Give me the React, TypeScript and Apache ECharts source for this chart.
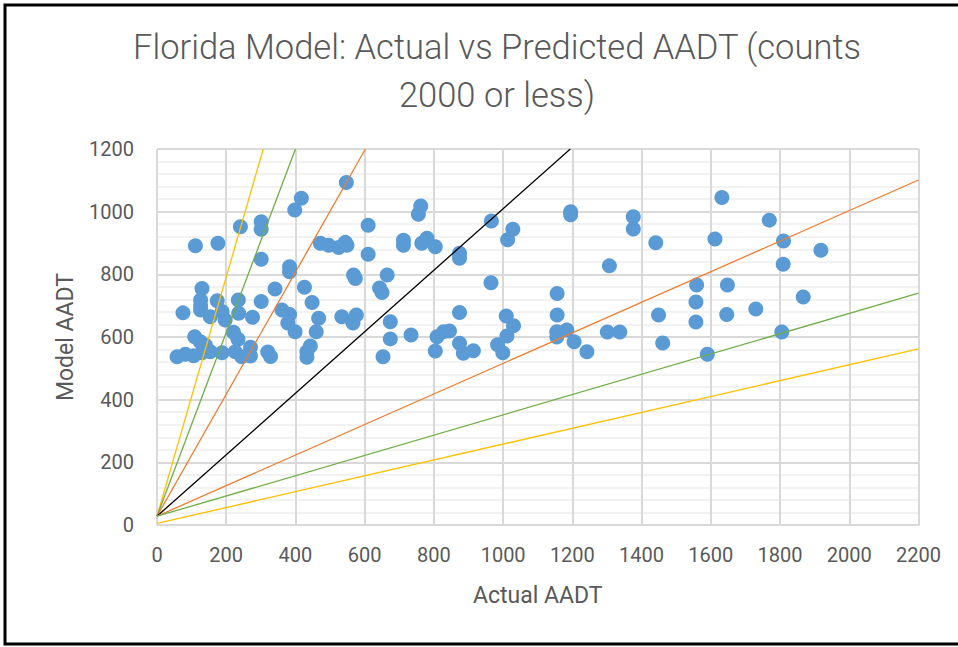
import React, { useEffect, useRef } from "react";
import * as echarts from "echarts";

const titleLines = ["Florida Model: Actual vs Predicted AADT (counts", "2000 or less)"];
const xAxisTitle = "Actual AADT";
const yAxisTitle = "Model AADT";

const actualAADT = [
  547, 417, 398, 241, 301, 301, 111, 176, 610, 472, 496, 525, 544, 549, 610, 301, 383, 383, 568, 573,
  665, 643, 650, 130, 341, 426, 448, 126, 126, 126, 174, 235, 301, 75, 154, 188, 197, 236, 276, 361,
  383, 378, 399, 467, 460, 534, 576, 566, 674, 674, 734, 109, 125, 140, 221, 234, 58, 82, 106, 130,
  154, 188, 226, 245, 270, 270, 320, 328, 443, 433, 433, 653, 762, 755, 712, 712, 780, 765, 804, 874,
  874, 966, 1028, 1013, 965, 1195, 1195, 1376, 1376, 1307, 874, 1156, 1156, 804, 809, 828, 845, 874, 885, 914,
  1009, 1030, 1011, 984, 999, 1155, 1155, 1184, 1205, 1242, 1301, 1337, 1441, 1632, 1612, 1769, 1810, 1918, 1809, 1559,
  1557, 1557, 1648, 1449, 1646, 1730, 1867, 1805, 1461, 1590,
];

const modelAADT = [
  1093, 1043, 1005, 952, 968, 944, 891, 899, 957, 899, 893, 886, 902, 893, 864, 848, 824, 808, 798, 787,
  798, 756, 742, 755, 753, 759, 710, 718, 700, 686, 716, 718, 713, 677, 665, 681, 654, 676, 663, 686,
  672, 645, 617, 660, 617, 665, 670, 645, 649, 594, 606, 601, 585, 574, 615, 593, 537, 545, 540, 550,
  553, 550, 553, 537, 567, 539, 552, 538, 571, 553, 535, 537, 1018, 992, 909, 893, 915, 899, 888, 867,
  851, 970, 944, 910, 773, 1000, 990, 984, 945, 827, 678, 739, 670, 555, 601, 617, 619, 580, 548, 556,
  667, 636, 603, 575, 550, 617, 600, 622, 585, 553, 616, 616, 901, 1045, 913, 973, 906, 877, 832, 766,
  712, 648, 766, 670, 672, 689, 728, 616, 581, 545,
];

// Reference lines: [x, y] end points in data units
const yellowUpper = [[0, 28], [307, 1200]];
const greenUpper = [[0, 28], [400, 1200]];
const orangeUpper = [[0, 28], [602, 1200]];
const oneToOne = [[0, 28], [1194, 1200]];
const orangeLower = [[0, 28], [2200, 1101]];
const greenLower = [[0, 28], [2200, 740]];
const yellowLower = [[0, 5], [2200, 562]];

const FONT = "Roboto, 'Open Sans', sans-serif";
const TEXT_COLOR = "#595959";

export default function App() {
  const ref = useRef<HTMLDivElement>(null);

  useEffect(() => {
    if (!ref.current) return;
    const chart = echarts.init(ref.current, null, { renderer: "svg" });

    const points = actualAADT.map((x, i) => [x, modelAADT[i]]);
    const refLine = (data: number[][], color: string) => ({
      type: "line",
      data,
      showSymbol: false,
      symbol: "none",
      silent: true,
      z: 5,
      lineStyle: { color, width: 1.3 },
    });
    const plain = (v: number) => String(v);

    chart.setOption({
      animation: false,
      backgroundColor: "#ffffff",
      title: {
        text: titleLines.join("\n"),
        left: 492,
        top: 18,
        textAlign: "center",
        textStyle: {
          fontFamily: FONT,
          fontWeight: 300,
          fontSize: 34.5,
          lineHeight: 48,
          color: TEXT_COLOR,
        },
      },
      graphic: [
        {
          type: "rect",
          shape: { x: 5, y: 5, width: 1000, height: 639 },
          style: { fill: "none", stroke: "#000000", lineWidth: 3 },
          silent: true,
        },
      ],
      grid: { left: 157, right: 39.5, top: 149, bottom: 122, containLabel: false },
      xAxis: {
        type: "value",
        min: 0,
        max: 2200,
        interval: 200,
        name: xAxisTitle,
        nameLocation: "middle",
        nameGap: 59,
        nameTextStyle: { fontFamily: FONT, fontSize: 23, color: TEXT_COLOR },
        axisLine: { show: true, lineStyle: { color: "#d9d9d9", width: 2 } },
        axisTick: { show: false },
        axisLabel: { fontFamily: FONT, fontSize: 20, color: TEXT_COLOR, margin: 20, formatter: plain },
        splitLine: { show: true, lineStyle: { color: "#d9d9d9", width: 2 } },
      },
      yAxis: {
        type: "value",
        min: 0,
        max: 1200,
        interval: 200,
        name: yAxisTitle,
        nameLocation: "middle",
        nameGap: 80,
        nameRotate: 90,
        nameTextStyle: { fontFamily: FONT, fontSize: 23, color: TEXT_COLOR },
        axisLine: { show: false },
        axisTick: { show: false },
        axisLabel: { fontFamily: FONT, fontSize: 20, color: TEXT_COLOR, margin: 23, formatter: plain },
        splitLine: { show: true, lineStyle: { color: "#d9d9d9", width: 2 } },
        minorTick: { show: false, splitNumber: 5 },
        minorSplitLine: { show: true, lineStyle: { color: "#eeeeee", width: 1.5 } },
      },
      series: [
        {
          type: "scatter",
          data: points,
          symbol: "circle",
          symbolSize: 15,
          z: 2,
          itemStyle: { color: "#5b9bd5", opacity: 1 },
        },
        refLine(yellowUpper, "#ffc000"),
        refLine(greenUpper, "#70ad47"),
        refLine(orangeUpper, "#ed7d31"),
        refLine(oneToOne, "#000000"),
        refLine(orangeLower, "#ed7d31"),
        refLine(greenLower, "#70ad47"),
        refLine(yellowLower, "#ffc000"),
      ],
    });

    return () => chart.dispose();
  }, []);

  return (
    <div
      ref={ref}
      style={{ position: "absolute", left: 0, top: 0, width: 958, height: 647 }}
    />
  );
}
